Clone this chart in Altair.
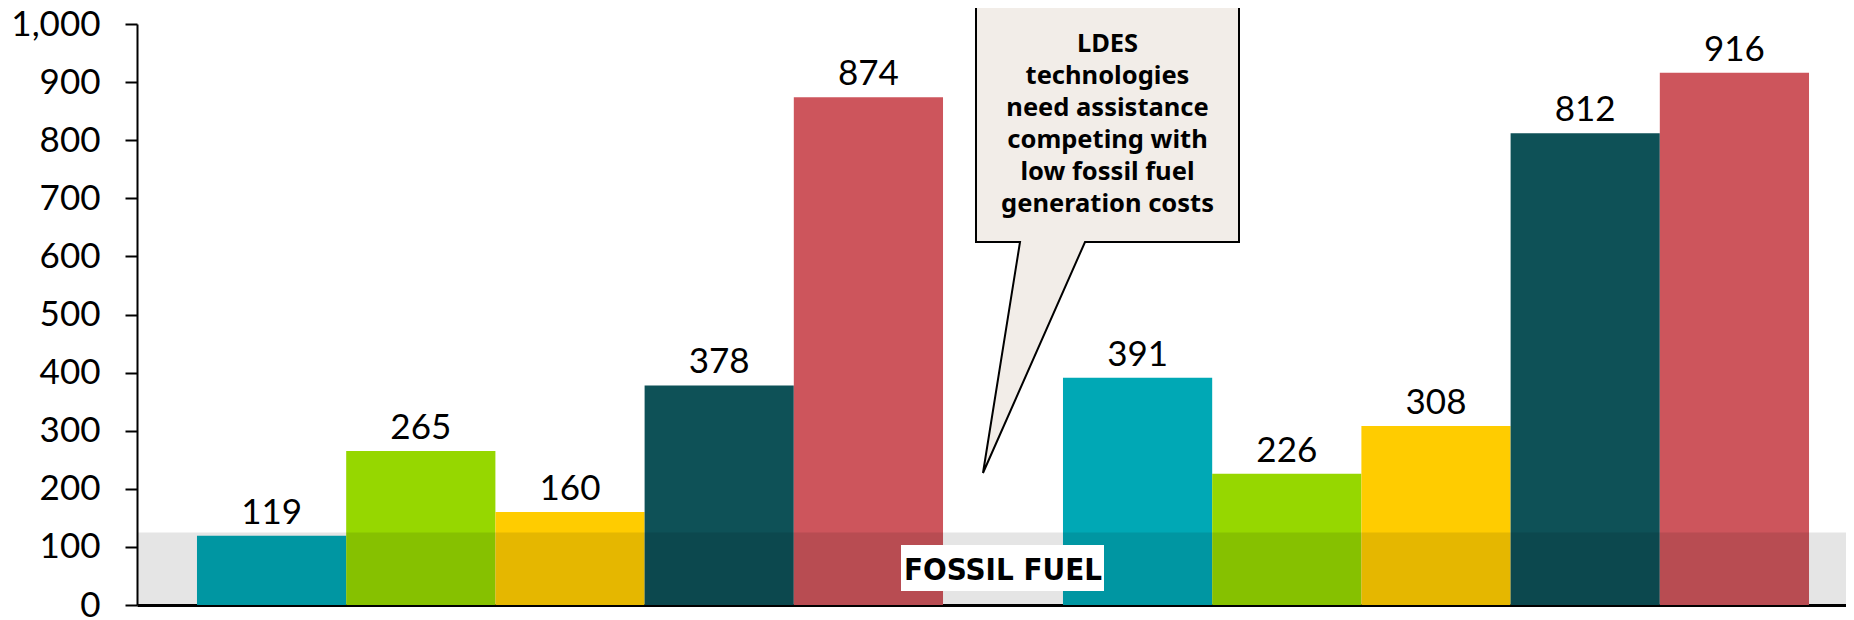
import altair as alt
import pandas as pd

# ---- data ----
categories = ["Group 1", "Group 2"]
series = ["Series 1", "Series 2", "Series 3", "Series 4", "Series 5"]
values_group1 = [119, 265, 160, 378, 874]
values_group2 = [391, 226, 308, 812, 916]
series_colors = ["#00A8B5", "#96D700", "#FFCC00", "#0E5157", "#CD555C"]
y_ticks = [0, 100, 200, 300, 400, 500, 600, 700, 800, 900, 1000]
fossil_band = [0, 125]
fossil_label = "FOSSIL FUEL"
callout_lines = ["LDES", "technologies", "need assistance", "competing with",
                 "low fossil fuel", "generation costs"]

rows = []
for cat, vals in zip(categories, [values_group1, values_group2]):
    for s, v in zip(series, vals):
        rows.append({"category": cat, "series": s, "value": v})
df = pd.DataFrame(rows)
band_df = pd.DataFrame({"start": [fossil_band[0]], "end": [fossil_band[1]], "label": [fossil_label]})

PLOT_W = 1709      # visible plot width
RANGE_W = 1732     # band range (chart continues past the window edge, as in the reference)
PLOT_H = 581

y_axis = alt.Axis(values=y_ticks, format=",d", title=None, grid=False,
                  domainColor="black", domainWidth=2, tickColor="black",
                  tickWidth=2, tickSize=12, labelPadding=25, labelFont="Lato",
                  labelFontSize=35, labelColor="black")
y_scale = alt.Scale(domain=[0, 1000], nice=False)

x_enc = alt.X("category:N", sort=categories,
              scale=alt.Scale(range=[0, RANGE_W], paddingInner=0, paddingOuter=0),
              axis=alt.Axis(labels=False, ticks=False, title=None,
                            domainColor="black", domainWidth=3))
xoff_enc = alt.XOffset("series:N", sort=series,
                       scale=alt.Scale(paddingInner=0, paddingOuter=0.402))

bars = alt.Chart(df).mark_bar().encode(
    x=x_enc,
    xOffset=xoff_enc,
    y=alt.Y("value:Q", scale=y_scale, axis=y_axis),
    color=alt.Color("series:N", sort=series,
                    scale=alt.Scale(domain=series, range=series_colors), legend=None),
)

band = alt.Chart(band_df).mark_rect(color="black", opacity=0.1).encode(
    x=alt.value(0), x2=alt.value(RANGE_W + 10),
    y=alt.Y("start:Q", scale=y_scale, axis=y_axis), y2="end:Q",
)

label_box = alt.Chart(band_df).mark_rect(color="white").encode(
    x=alt.value(764), x2=alt.value(967), y=alt.value(521), y2=alt.value(567),
)

label_text = alt.Chart(band_df).mark_text(
    font="DejaVu Sans Condensed", fontWeight="bold", fontSize=31,
    color="black", align="center", baseline="alphabetic",
).encode(x=alt.value(866), y=alt.value(556), text="label:N")

value_labels = alt.Chart(df).mark_text(
    font="Lato", fontSize=35, color="black", baseline="alphabetic", dy=-12,
).encode(
    x=x_enc, xOffset=xoff_enc,
    y=alt.Y("value:Q", scale=y_scale, axis=y_axis),
    text=alt.Text("value:Q"),
)

callout_path = ("M-0.5584,-1 L0.5584,-1 L0.5584,0.0191 L-0.0955,0.0191 "
                "L-0.5287,1 L-0.3715,0.0191 L-0.5584,0.0191 Z")
callout_shape = alt.Chart(band_df).mark_point(
    shape=callout_path, size=471 * 471, filled=True, fill="#F2EDE8",
    stroke="black", strokeWidth=2, opacity=1, fillOpacity=1, strokeOpacity=1,
).encode(x=alt.value(970.5), y=alt.value(213.5))

callout_text = alt.Chart(band_df).mark_text(
    font="Noto Sans", fontWeight="bold", fontSize=25.5, color="black",
    align="center", baseline="alphabetic", lineHeight=32,
).encode(x=alt.value(970.5), y=alt.value(28), text=alt.value(callout_lines))

chart = alt.layer(
    bars, band, label_box, label_text, value_labels, callout_shape, callout_text
).properties(
    width=PLOT_W, height=PLOT_H,
    autosize=alt.AutoSizeParams(type="none"),
    padding={"left": 129, "top": 16, "right": 0, "bottom": 14},
    background="white",
).configure_view(stroke=None)

chart.save("out.html", embed_options={"renderer": "svg", "actions": False})
